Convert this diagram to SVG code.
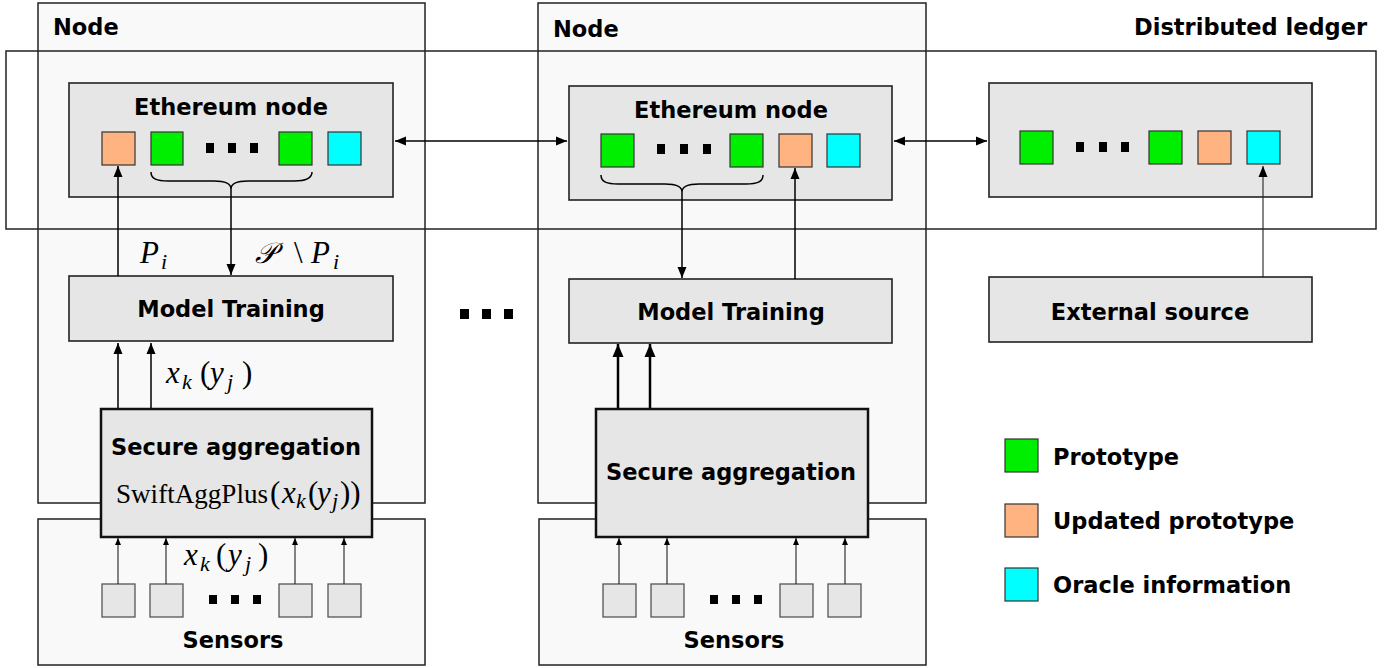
<svg xmlns="http://www.w3.org/2000/svg" width="1396" height="668" viewBox="0 0 1396 668">
<defs>
<style>
.node{fill:#f9f9f9;stroke:#222;stroke-width:1.5}
.ledger{fill:none;stroke:#222;stroke-width:1.5}
.box{fill:#e6e6e6;stroke:#222;stroke-width:1.6}
.agg{fill:#e6e6e6;stroke:#111;stroke-width:2.5}
.g{fill:#00ee00;stroke:#333;stroke-width:1.2}
.o{fill:#ffb380;stroke:#333;stroke-width:1.2}
.c{fill:#00ffff;stroke:#333;stroke-width:1.2}
.sen{fill:#e6e6e6;stroke:#555;stroke-width:1.3}
.dot{fill:#000}
.t{font-family:"DejaVu Sans",Verdana,sans-serif;font-weight:bold;font-size:22.5px;fill:#000}
.mt{font-family:"Liberation Serif","DejaVu Serif",serif;font-size:31px;fill:#000}
.it{font-style:italic}
.sub{font-style:italic;font-size:22px}
.ln{fill:none;stroke:#000;stroke-width:1.5}
.thick{fill:none;stroke:#000;stroke-width:2.5}
.thin{fill:none;stroke:#222;stroke-width:1.1}
.brace{fill:none;stroke:#000;stroke-width:1.5}
</style>
<marker id="ah" markerUnits="userSpaceOnUse" markerWidth="12" markerHeight="10" refX="11" refY="5" orient="auto-start-reverse"><path d="M0,0.5 L11,5 L0,9.5 z" fill="#000"/></marker>
<marker id="ahb" markerUnits="userSpaceOnUse" markerWidth="14" markerHeight="12" refX="13" refY="6" orient="auto-start-reverse"><path d="M0,0.5 L13,6 L0,11.5 z" fill="#000"/></marker>
<marker id="ahs" markerUnits="userSpaceOnUse" markerWidth="8" markerHeight="8" refX="7" refY="3.5" orient="auto"><path d="M0,0.5 L7,3.5 L0,6.5 z" fill="#000"/></marker>
</defs>

<g id="node1">
<rect class="node" x="38" y="3" width="387" height="500"/>
<text class="t" x="53" y="35">Node</text>
</g>
<g id="node2">
<rect class="node" x="538" y="3" width="388" height="500"/>
<text class="t" x="553" y="37">Node</text>
</g>
<g id="sensors1">
<rect class="node" x="38" y="519" width="387" height="146"/>
<rect class="sen" x="102" y="584" width="33" height="33"/>
<rect class="sen" x="150" y="584" width="33" height="33"/>
<rect class="dot" x="209" y="595" width="8" height="9"/>
<rect class="dot" x="231" y="595" width="8" height="9"/>
<rect class="dot" x="253" y="595" width="8" height="9"/>
<rect class="sen" x="279" y="584" width="33" height="33"/>
<rect class="sen" x="328" y="584" width="33" height="33"/>
<text class="t" x="233" y="648" text-anchor="middle">Sensors</text>
</g>
<g id="sensors2">
<rect class="node" x="539" y="519" width="387" height="146"/>
<rect class="sen" x="603" y="584" width="33" height="33"/>
<rect class="sen" x="651" y="584" width="33" height="33"/>
<rect class="dot" x="710" y="595" width="8" height="9"/>
<rect class="dot" x="732" y="595" width="8" height="9"/>
<rect class="dot" x="754" y="595" width="8" height="9"/>
<rect class="sen" x="780" y="584" width="33" height="33"/>
<rect class="sen" x="828" y="584" width="33" height="33"/>
<text class="t" x="734" y="648" text-anchor="middle">Sensors</text>
</g>

<g id="ledger">
<rect class="ledger" x="6" y="51" width="1370" height="178"/>
<text class="t" x="1367" y="35" text-anchor="end">Distributed ledger</text>
</g>

<g id="eth1">
<rect class="box" x="69" y="83" width="324" height="114"/>
<text class="t" x="231" y="115" text-anchor="middle">Ethereum node</text>
<rect class="o" x="102" y="132" width="33" height="33"/>
<rect class="g" x="151" y="132" width="32" height="33"/>
<rect class="dot" x="206" y="143" width="8" height="10"/>
<rect class="dot" x="228" y="143" width="8" height="10"/>
<rect class="dot" x="250" y="143" width="8" height="10"/>
<rect class="g" x="279" y="132" width="33" height="33"/>
<rect class="c" x="328" y="132" width="33" height="33"/>
<path class="brace" d="M151,172 C151,179 157,181 168,181 L214,181 C225,181 231,184 231,189 C231,184 237,181 248,181 L294,181 C305,181 312,179 312,172"/>
</g>
<g id="eth2">
<rect class="box" x="569" y="86" width="323" height="114"/>
<text class="t" x="731" y="118" text-anchor="middle">Ethereum node</text>
<rect class="g" x="601" y="134" width="33" height="33"/>
<rect class="dot" x="657" y="144" width="8" height="10"/>
<rect class="dot" x="680" y="144" width="8" height="10"/>
<rect class="dot" x="703" y="144" width="8" height="10"/>
<rect class="g" x="730" y="134" width="33" height="33"/>
<rect class="o" x="779" y="134" width="33" height="33"/>
<rect class="c" x="827" y="134" width="33" height="33"/>
<path class="brace" d="M601,175 C601,182 607,184 618,184 L665,184 C676,184 682,187 682,192 C682,187 688,184 699,184 L746,184 C757,184 763,182 763,175"/>
</g>
<g id="chain">
<rect class="box" x="989" y="83" width="323" height="114"/>
<rect class="g" x="1020" y="131" width="33" height="33"/>
<rect class="dot" x="1076" y="142" width="8" height="10"/>
<rect class="dot" x="1099" y="142" width="8" height="10"/>
<rect class="dot" x="1121" y="142" width="8" height="10"/>
<rect class="g" x="1149" y="131" width="33" height="33"/>
<rect class="o" x="1198" y="131" width="33" height="33"/>
<rect class="c" x="1247" y="131" width="33" height="33"/>
</g>

<g id="training1">
<rect class="box" x="69" y="276" width="324" height="65"/>
<text class="t" x="231" y="317" text-anchor="middle">Model Training</text>
</g>
<g id="training2">
<rect class="box" x="569" y="279" width="323" height="64"/>
<text class="t" x="731" y="320" text-anchor="middle">Model Training</text>
</g>
<g id="external">
<rect class="box" x="989" y="277" width="323" height="65"/>
<text class="t" x="1150" y="320" text-anchor="middle">External source</text>
</g>

<g id="agg1">
<rect class="agg" x="101" y="409" width="271" height="128"/>
<text class="t" x="236" y="455" text-anchor="middle">Secure aggregation</text>
<text class="mt" font-size="28"><tspan x="116" y="503" font-size="27" textLength="152" lengthAdjust="spacingAndGlyphs">SwiftAggPlus</tspan><tspan x="270" y="503">(</tspan><tspan class="it" x="282" y="503">x</tspan><tspan class="sub" x="296" y="508" font-size="20">k</tspan><tspan x="308" y="503">(</tspan><tspan class="it" x="317" y="503">y</tspan><tspan class="sub" x="332" y="508" font-size="20">j</tspan><tspan x="340" y="503">))</tspan></text>
</g>
<g id="agg2">
<rect class="agg" x="596" y="409" width="272" height="128"/>
<text class="t" x="731" y="480" text-anchor="middle">Secure aggregation</text>
</g>

<g id="between">
<rect class="dot" x="460" y="309" width="9" height="10"/>
<rect class="dot" x="482" y="309" width="9" height="10"/>
<rect class="dot" x="504" y="309" width="9" height="10"/>
</g>

<g id="legend">
<rect class="g" x="1005" y="439" width="33" height="33"/>
<text class="t" x="1053" y="465">Prototype</text>
<rect class="o" x="1005" y="504" width="33" height="33"/>
<text class="t" x="1053" y="529">Updated prototype</text>
<rect class="c" x="1005" y="568" width="33" height="33"/>
<text class="t" x="1053" y="593">Oracle information</text>
</g>

<g id="connectors">
<line class="ln" x1="395" y1="141" x2="567" y2="141" marker-start="url(#ah)" marker-end="url(#ah)"/>
<line class="ln" x1="894" y1="141" x2="987" y2="141" marker-start="url(#ah)" marker-end="url(#ah)"/>
<line class="ln" x1="118" y1="276" x2="118" y2="166" marker-end="url(#ah)"/>
<line class="ln" x1="231" y1="189" x2="231" y2="275" marker-end="url(#ah)"/>
<line class="ln" x1="118" y1="408" x2="118" y2="343" marker-end="url(#ah)"/>
<line class="ln" x1="151" y1="408" x2="151" y2="343" marker-end="url(#ah)"/>
<line class="ln" x1="682" y1="192" x2="682" y2="278" marker-end="url(#ah)"/>
<line class="ln" x1="795" y1="279" x2="795" y2="168" marker-end="url(#ah)"/>
<line class="thick" x1="618" y1="408" x2="618" y2="344" marker-end="url(#ahb)"/>
<line class="thick" x1="650" y1="408" x2="650" y2="344" marker-end="url(#ahb)"/>
<line class="thin" x1="1263" y1="277" x2="1263" y2="166" marker-end="url(#ah)"/>
<line class="thin" x1="118" y1="584" x2="118" y2="538" marker-end="url(#ahs)"/>
<line class="thin" x1="166" y1="584" x2="166" y2="538" marker-end="url(#ahs)"/>
<line class="thin" x1="295" y1="584" x2="295" y2="538" marker-end="url(#ahs)"/>
<line class="thin" x1="344" y1="584" x2="344" y2="538" marker-end="url(#ahs)"/>
<line class="thin" x1="619" y1="584" x2="619" y2="538" marker-end="url(#ahs)"/>
<line class="thin" x1="667" y1="584" x2="667" y2="538" marker-end="url(#ahs)"/>
<line class="thin" x1="796" y1="584" x2="796" y2="538" marker-end="url(#ahs)"/>
<line class="thin" x1="845" y1="584" x2="845" y2="538" marker-end="url(#ahs)"/>
</g>

<g id="labels">
<text class="mt"><tspan class="it" x="140" y="263">P</tspan><tspan class="sub" x="161" y="269">i</tspan></text>
<text class="mt"><tspan class="it" x="255" y="263" font-size="29" font-family="'DejaVu Serif','Liberation Serif',serif">𝒫</tspan><tspan x="294" y="263">\</tspan><tspan class="it" x="311" y="263">P</tspan><tspan class="sub" x="333" y="269">i</tspan></text>
<text class="mt"><tspan class="it" x="166" y="383">x</tspan><tspan class="sub" x="182" y="389">k</tspan><tspan x="200" y="383">(</tspan><tspan class="it" x="210" y="383">y</tspan><tspan class="sub" x="227" y="389">j</tspan><tspan x="242" y="383">)</tspan></text>
<text class="mt"><tspan class="it" x="184" y="565">x</tspan><tspan class="sub" x="200" y="571">k</tspan><tspan x="216" y="565">(</tspan><tspan class="it" x="228" y="565">y</tspan><tspan class="sub" x="245" y="571">j</tspan><tspan x="258" y="565">)</tspan></text>
</g>
</svg>
